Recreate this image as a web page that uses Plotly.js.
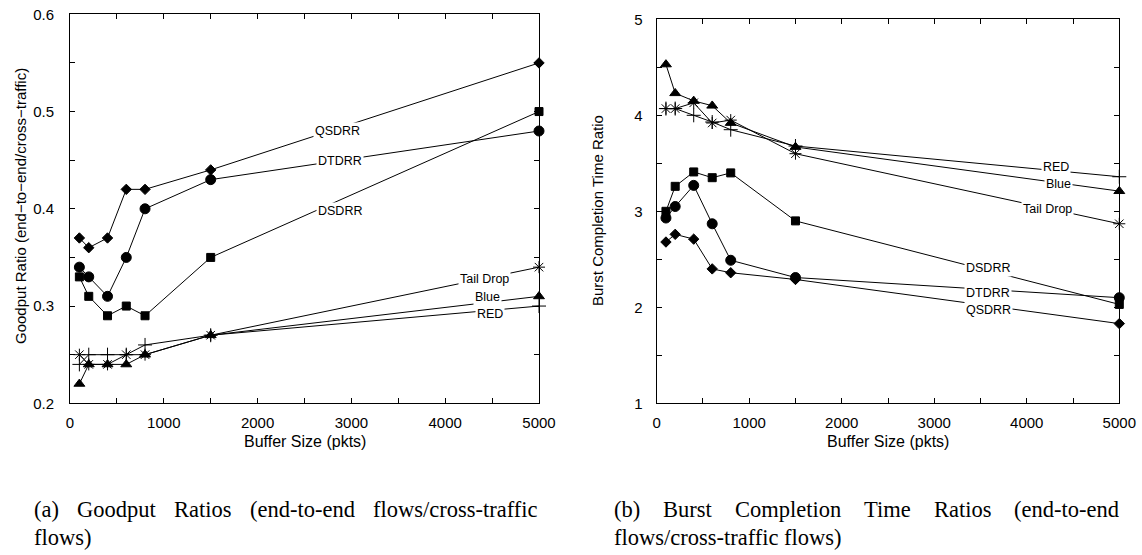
<!DOCTYPE html>
<html>
<head>
<meta charset="utf-8">
<script src="https://cdn.plot.ly/plotly-3.0.1.min.js"></script>
<style>
  html, body { margin: 0; padding: 0; background: #fff; }
  #chart { width: 1142px; height: 555px; }
</style>
</head>
<body>
<div id="chart"></div>
<script>
// Buffer sizes (packets) shared by both panels
const bufferSizes = [100, 200, 400, 600, 800, 1500, 5000];
const schemes = ["QSDRR", "DTDRR", "DSDRR", "Tail Drop", "Blue", "RED"];

// (a) goodput ratio, end-to-end / cross-traffic
const goodputQSDRR    = [0.37, 0.36, 0.37, 0.42, 0.42, 0.44, 0.55];
const goodputDTDRR    = [0.34, 0.33, 0.31, 0.35, 0.40, 0.43, 0.48];
const goodputDSDRR    = [0.33, 0.31, 0.29, 0.30, 0.29, 0.35, 0.50];
const goodputTailDrop = [0.25, 0.24, 0.24, 0.25, 0.25, 0.27, 0.34];
const goodputBlue     = [0.22, 0.24, 0.24, 0.24, 0.25, 0.27, 0.31];
const goodputRED      = [0.24, 0.25, 0.25, 0.25, 0.26, 0.27, 0.30];

// (b) burst completion time ratio
const burstQSDRR    = [2.68, 2.76, 2.71, 2.40, 2.36, 2.29, 1.83];
const burstDTDRR    = [2.93, 3.05, 3.27, 2.87, 2.49, 2.31, 2.10];
const burstDSDRR    = [3.00, 3.26, 3.41, 3.35, 3.40, 2.90, 2.03];
const burstTailDrop = [4.07, 4.07, 4.13, 3.92, 3.95, 3.60, 2.87];
const burstBlue     = [4.53, 4.23, 4.15, 4.10, 3.92, 3.67, 3.21];
const burstRED      = [4.07, 4.07, 4.00, 3.93, 3.85, 3.68, 3.36];

const W = 1142, H = 555;
const px = v => v / W;           // pixel -> paper x
const py = v => 1 - v / H;       // pixel -> paper y

const markerStyle = {
  "QSDRR":     { symbol: "diamond",          size: 8 },
  "DTDRR":     { symbol: "circle",           size: 10 },
  "DSDRR":     { symbol: "square",           size: 8 },
  "Tail Drop": { symbol: "asterisk-open",    size: 10 },
  "Blue":      { symbol: "triangle-up",      size: 9.5 },
  "RED":       { symbol: "cross-thin-open",  size: 10 }
};

function series(name, ys, xa, ya) {
  const m = markerStyle[name];
  return {
    type: "scatter", mode: "lines+markers", name: name,
    x: bufferSizes, y: ys, xaxis: xa, yaxis: ya,
    cliponaxis: false, showlegend: false,
    line: { color: "#000", width: 1 },
    marker: { symbol: m.symbol, size: m.size, color: "#000",
              line: { color: "#000", width: 1 } }
  };
}

// drawing order: crosses/asterisks first so the solid markers sit on top
const traces = [
  series("Tail Drop", goodputTailDrop, "x", "y"),
  series("RED", goodputRED, "x", "y"),
  series("Blue", goodputBlue, "x", "y"),
  series("DSDRR", goodputDSDRR, "x", "y"),
  series("DTDRR", goodputDTDRR, "x", "y"),
  series("QSDRR", goodputQSDRR, "x", "y"),
  series("Tail Drop", burstTailDrop, "x2", "y2"),
  series("RED", burstRED, "x2", "y2"),
  series("Blue", burstBlue, "x2", "y2"),
  series("DSDRR", burstDSDRR, "x2", "y2"),
  series("DTDRR", burstDTDRR, "x2", "y2"),
  series("QSDRR", burstQSDRR, "x2", "y2")
];

const tickFont = { family: "Liberation Sans, Arial, sans-serif", size: 15, color: "#000" };

function axis(extra) {
  return Object.assign({
    showgrid: false, zeroline: false, showline: true, linecolor: "#000", linewidth: 1,
    mirror: "allticks", ticks: "inside", ticklen: 5, tickcolor: "#000", tickwidth: 1,
    tickfont: tickFont, fixedrange: true
  }, extra);
}

// in-plot series labels (gnuplot style, sitting on the line)
const labelPos = {
  left: {
    "QSDRR": [2857, 0.480], "DTDRR": [2878, 0.449], "DSDRR": [2878, 0.398],
    "Tail Drop": [4424, 0.328], "Blue": [4456, 0.309], "RED": [4478, 0.292]
  },
  right: {
    "RED": [4312, 3.46], "Blue": [4345, 3.28], "Tail Drop": [4226, 3.02],
    "DSDRR": [3578, 2.41], "DTDRR": [3578, 2.15], "QSDRR": [3589, 1.97]
  }
};

const labelFont = { family: "Liberation Sans, Arial, sans-serif", size: 12.5, color: "#000" };
const annotations = [];
schemes.forEach(s => {
  const a = labelPos.left[s], b = labelPos.right[s];
  annotations.push({ xref: "x", yref: "y", x: a[0], y: a[1], text: s, showarrow: false,
    font: labelFont, bgcolor: "#fff", borderpad: 1 });
  annotations.push({ xref: "x2", yref: "y2", x: b[0], y: b[1], text: s, showarrow: false,
    font: labelFont, bgcolor: "#fff", borderpad: 1 });
});

const yTitleFont = { family: "Liberation Sans, Arial, sans-serif", size: 15, color: "#000" };
const xTitleFont = { family: "Liberation Sans, Arial, sans-serif", size: 16, color: "#000" };
annotations.push(
  { xref: "paper", yref: "paper", x: px(20), y: py(206), text: "Goodput Ratio (end\u2212to\u2212end/cross\u2212traffic)",
    textangle: -90, showarrow: false, font: yTitleFont, xanchor: "center", yanchor: "middle" },
  { xref: "paper", yref: "paper", x: px(597), y: py(211), text: "Burst Completion Time Ratio",
    textangle: -90, showarrow: false, font: yTitleFont, xanchor: "center", yanchor: "middle" },
  { xref: "paper", yref: "paper", x: px(305), y: py(441), text: "Buffer Size (pkts)",
    showarrow: false, font: xTitleFont, xanchor: "center", yanchor: "middle" },
  { xref: "paper", yref: "paper", x: px(888), y: py(441), text: "Buffer Size (pkts)",
    showarrow: false, font: xTitleFont, xanchor: "center", yanchor: "middle" }
);

// justified sub-figure captions, one annotation per word
const captionFamily = "Liberation Serif, Times New Roman, serif";
const captionSize = 22.5;
const ctx = document.createElement("canvas").getContext("2d");
ctx.font = captionSize + "px " + captionFamily;
function justifiedLine(words, x0, x1, yc, justify) {
  const widths = words.map(w => ctx.measureText(w).width);
  const total = widths.reduce((p, c) => p + c, 0);
  const gap = justify && words.length > 1 ? (x1 - x0 - total) / (words.length - 1)
                                           : ctx.measureText(" ").width;
  let x = x0;
  words.forEach((w, i) => {
    annotations.push({ xref: "paper", yref: "paper", x: px(x), y: py(yc), text: w,
      showarrow: false, xanchor: "left", yanchor: "middle", borderpad: 0,
      font: { family: captionFamily, size: captionSize, color: "#000" } });
    x += widths[i] + gap;
  });
}
justifiedLine(["(a)", "Goodput", "Ratios", "(end-to-end", "flows/cross-traffic"], 33, 537, 509, true);
justifiedLine(["flows)"], 33, 537, 537, false);
justifiedLine(["(b)", "Burst", "Completion", "Time", "Ratios", "(end-to-end"], 613, 1118, 509, true);
justifiedLine(["flows/cross-traffic", "flows)"], 613, 1118, 537, false);

const layout = {
  width: W, height: H,
  margin: { l: 0, r: 0, t: 0, b: 0 },
  paper_bgcolor: "#fff", plot_bgcolor: "#fff",
  showlegend: false,
  xaxis: axis({ domain: [px(70), px(539)], range: [0, 5000], tickmode: "linear", tick0: 0, dtick: 1000,
    ticklabelstandoff: 6, anchor: "y",
    minor: { dtick: 500, ticks: "inside", ticklen: 5, tickcolor: "#000", tickwidth: 1 } }),
  yaxis: axis({ domain: [py(403.3), py(14.3)], range: [0.2, 0.6], tickmode: "linear", tick0: 0.2, dtick: 0.1,
    tickformat: ".1f", ticklabelstandoff: 12, anchor: "x",
    minor: { dtick: 0.05, ticks: "inside", ticklen: 5, tickcolor: "#000", tickwidth: 1 } }),
  xaxis2: axis({ domain: [px(656.7), px(1119.3)], range: [0, 5000], tickmode: "linear", tick0: 0, dtick: 1000,
    ticklabelstandoff: 6, anchor: "y2",
    minor: { dtick: 500, ticks: "inside", ticklen: 5, tickcolor: "#000", tickwidth: 1 } }),
  yaxis2: axis({ domain: [py(403.3), py(19.3)], range: [1, 5], tickmode: "linear", tick0: 1, dtick: 1,
    ticklabelstandoff: 10, anchor: "x2",
    minor: { dtick: 0.5, ticks: "inside", ticklen: 5, tickcolor: "#000", tickwidth: 1 } }),
  annotations: annotations
};

Plotly.newPlot("chart", traces, layout, { staticPlot: true, displayModeBar: false });
</script>
</body>
</html>
